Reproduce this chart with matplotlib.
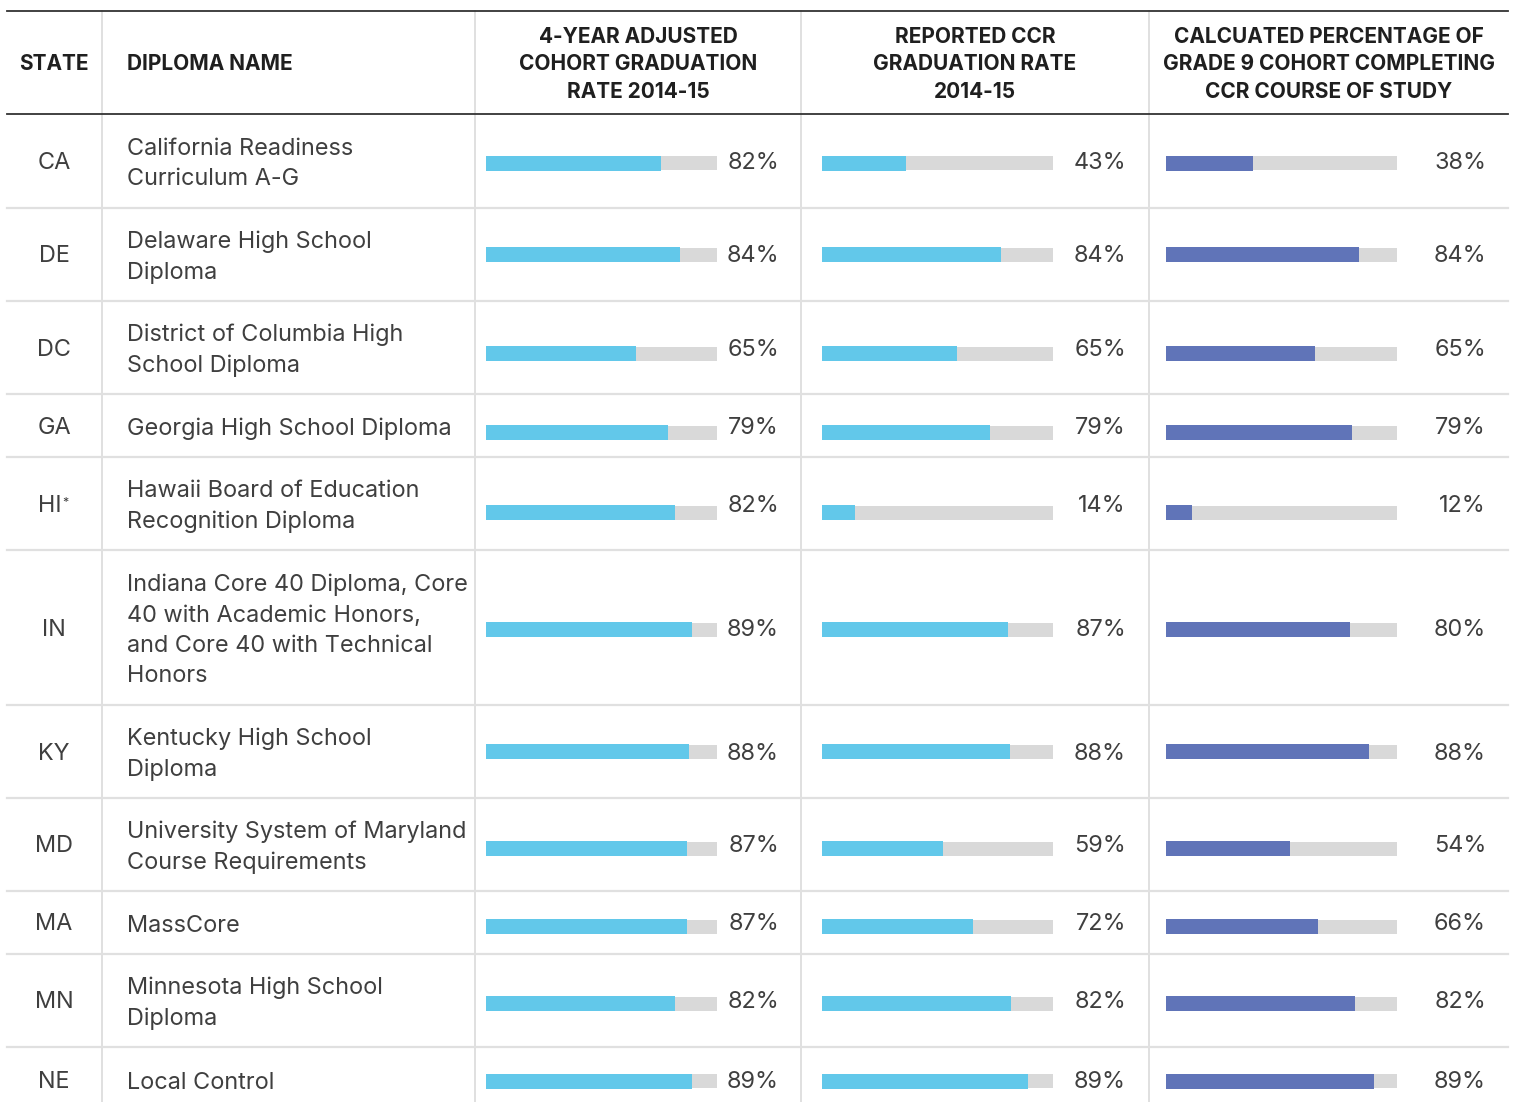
import matplotlib
matplotlib.use("Agg")
import matplotlib.pyplot as plt

# ---------------- data ----------------
states = ["CA", "DE", "DC", "GA", "HI*", "IN", "KY", "MD", "MA", "MN", "NE"]
diplomas = [
    "California Readiness\nCurriculum A-G",
    "Delaware High School\nDiploma",
    "District of Columbia High\nSchool Diploma",
    "Georgia High School Diploma",
    "Hawaii Board of Education\nRecognition Diploma",
    "Indiana Core 40 Diploma, Core\n40 with Academic Honors,\nand Core 40 with Technical\nHonors",
    "Kentucky High School\nDiploma",
    "University System of Maryland\nCourse Requirements",
    "MassCore",
    "Minnesota High School\nDiploma",
    "Local Control",
]
headers = [
    "4-YEAR ADJUSTED\nCOHORT GRADUATION\nRATE 2014-15",
    "REPORTED CCR\nGRADUATION RATE\n2014-15",
    "CALCUATED PERCENTAGE OF\nGRADE 9 COHORT COMPLETING\nCCR COURSE OF STUDY",
]
# printed labels (%)
grad_rate = [82, 84, 65, 79, 82, 89, 88, 87, 87, 82, 89]
ccr_rate = [43, 84, 65, 79, 14, 87, 88, 59, 72, 82, 89]
cohort_ccr = [38, 84, 65, 79, 12, 80, 88, 54, 66, 82, 89]
# bar lengths as drawn in the picture (%)
grad_bar = [75.8, 84.0, 65.0, 78.8, 81.8, 89.2, 87.9, 87.0, 87.0, 81.8, 89.2]
ccr_bar = [36.4, 77.5, 58.4, 72.7, 14.3, 80.5, 81.4, 52.4, 65.4, 81.8, 89.2]
cohort_bar = [37.7, 83.5, 64.5, 80.5, 11.3, 79.7, 87.9, 53.7, 65.8, 81.8, 90.0]

# ---------------- layout (pixels) ----------------
W, H = 1515, 1102
row_edges = [114, 208, 301, 394, 457, 550, 705, 798, 891, 954, 1047, 1113]
bar_offsets = [2, 0, 6, 7, 9, 2, 0, 4, 4, 3, 1]
vlines = [102, 475, 801, 1149]
tracks = [(486, 717), (822, 1053), (1166, 1397)]
label_right = [779, 1126, 1486]
header_cx = [638, 975, 1329]
CYAN = "#62C8EA"
PURPLE = "#6074B8"
TRACK = "#D9D9D9"
TXT = "#3f3f3f"
GRID = "#e0e0e0"

FONT = ["Inter", "DejaVu Sans"]
BODY = 16.9
HEAD = 15.0

fig = plt.figure(figsize=(W / 100, H / 100), dpi=100)
ax = fig.add_axes([0, 0, 1, 1])
ax.set_xlim(0, W)
ax.set_ylim(H, 0)
ax.axis("off")

# grid lines
for y in row_edges[1:-1]:
    ax.plot([7, 1508], [y, y], color=GRID, lw=1.6, zorder=1)
for x in vlines:
    ax.plot([x, x], [11, H], color=GRID, lw=1.4, zorder=1)
ax.plot([7, 1508], [11, 11], color="#333333", lw=1.3, zorder=2)
ax.plot([7, 1508], [114, 114], color="#333333", lw=1.3, zorder=2)

# headers
hy = 64.5
ax.text(54, hy - 1, "STATE", ha="center", va="center", fontsize=HEAD,
        fontweight="bold", color="#1f1f1f", family=FONT)
ax.text(127, hy - 1, "DIPLOMA NAME", ha="left", va="center", fontsize=HEAD,
        fontweight="bold", color="#1f1f1f", family=FONT)
for cx, h in zip(header_cx, headers):
    ax.text(cx, hy, h, ha="center", va="center", fontsize=HEAD,
            fontweight="bold", color="#1f1f1f", family=FONT, linespacing=1.47)

centers = [(a + b) / 2 + 2 for a, b in zip(row_edges[:-1], row_edges[1:])]

for i, (st, dn) in enumerate(zip(states, diplomas)):
    cy = centers[i]
    if st.endswith("*"):
        ax.text(62, cy, st[:-1], ha="right", va="center", fontsize=BODY,
                color=TXT, family=FONT)
        ax.text(62.5, cy - 3, "*", ha="left", va="center", fontsize=9,
                color=TXT, family=FONT)
    else:
        ax.text(54, cy, st, ha="center", va="center", fontsize=BODY,
                color=TXT, family=FONT)
    ax.text(127, cy + 1, dn, ha="left", va="center", fontsize=BODY,
            color=TXT, family=FONT, linespacing=1.5)

series = [
    (grad_rate, grad_bar, CYAN),
    (ccr_rate, ccr_bar, CYAN),
    (cohort_ccr, cohort_bar, PURPLE),
]
bar_y = [c + o - 2 for c, o in zip(centers, bar_offsets)]
for k, ((labels, bars, color), (x0, x1)) in enumerate(zip(series, tracks)):
    bax = fig.add_axes([x0 / W, 0, (x1 - x0) / W, 1])
    bax.set_xlim(0, 100)
    bax.set_ylim(H, 0)
    bax.axis("off")
    bax.patch.set_alpha(0)
    bax.barh(bar_y, [100] * len(bars), height=14, left=0, color=TRACK, zorder=1)
    bax.barh(bar_y, bars, height=15, left=0, color=color, zorder=2)
    for i, v in enumerate(labels):
        ax.text(label_right[k], centers[i], f"{v}%", ha="right", va="center",
                fontsize=BODY, color=TXT, family=FONT)

fig.savefig("out.png", dpi=100)
